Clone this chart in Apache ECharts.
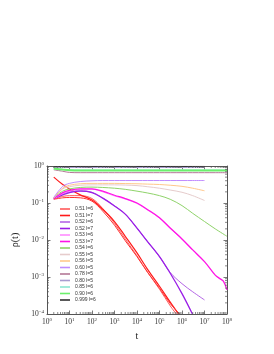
<!DOCTYPE html>
<html><head><meta charset="utf-8">
<script src="https://cdn.jsdelivr.net/npm/echarts@6/dist/echarts.min.js"></script>
<style>html,body{margin:0;padding:0;background:#fff}#c{width:274px;height:354px}</style>
</head><body><div id="c"></div>
<script>
// time grid (t values) shared by the series
const T = [2,5,10,30,100,300,1e3,3e3,1e4,3e4,1e5,3e5,1e6,3e6,1e7,3e7,1e8];

// rho(t) values (one value per entry of T, plus extra end points)
const r051_l6  = [0.132,0.151,0.158,0.158,0.132,0.0708,0.0282,0.0107,0.00372,0.00132,0.000468,0.000166];
const e051_l6  = [[5.6e5,1e-4]];
const r051_l7  = [0.501,0.316,0.240,0.166,0.120,0.0676,0.0316,0.0126,0.00447,0.00158,0.000562,0.000209];
const e051_l7  = [[7e5,1e-4]];
const r051_b   = [0.126,0.138,0.141,0.138,0.112,0.0603,0.0251,0.00955,0.00355,0.00132,0.0005,0.000191];
const e051_b   = [[8e5,1e-4]];
const r052_l7  = [0.132,0.166,0.191,0.209,0.191,0.135,0.0832,0.0501,0.0209,0.00891,0.00355,0.00126,0.000355];
const e052_l7  = [[2.9e6,1e-4]];
const r052_l6  = [0.138,0.175,0.2,0.214,0.195,0.137,0.084,0.0501,0.0209,0.00891,0.00355,0.00132,0.00066,0.000398,0.00024];
const r053_l7  = [0.132,0.191,0.219,0.240,0.240,0.209,0.162,0.132,0.100,0.066,0.040,0.021,0.0107,0.0054,0.0026,0.00112];
const e053_l7  = [[5e7,0.00089],[7e7,0.00076],[1e8,0.00045]];
const r053_l6  = [0.126,0.18,0.21,0.235,0.235,0.2,0.155,0.128,0.097,0.064,0.039,0.0205,0.0105,0.0053,0.0026];
const r054_l6  = [0.141,0.209,0.240,0.263,0.269,0.263,0.251,0.234,0.209,0.186,0.158,0.126,0.085,0.0525,0.0316,0.02,0.0126];
const r055_l5  = [0.135,0.240,0.275,0.302,0.309,0.309,0.309,0.305,0.295,0.275,0.251,0.224,0.195,0.158,0.117];
const r056_l5  = [0.138,0.251,0.302,0.331,0.339,0.339,0.339,0.335,0.331,0.324,0.316,0.302,0.282,0.251,0.214];
const r060_l5  = [0.141,0.282,0.339,0.38,0.398,0.405,0.405,0.405,0.405,0.405,0.405,0.405,0.405,0.405,0.405];
const r078_l5  = [0.79,0.72,0.67,0.66,0.66,0.66,0.66,0.66,0.66,0.66,0.66,0.66,0.66,0.66,0.66,0.66,0.66];
const r080_l5  = [0.90,0.91,0.91,0.91,0.91,0.91,0.91,0.91,0.91,0.91,0.91,0.91,0.91,0.91,0.91];
const r085_l6  = [0.83,0.80,0.79,0.78,0.78,0.78,0.78,0.78,0.78,0.78,0.78,0.78,0.78,0.78,0.78,0.78,0.78];
const r090_l6  = [0.85,0.80,0.77,0.76,0.76,0.76,0.76,0.76,0.76,0.76,0.76,0.76,0.76,0.76,0.76,0.76,0.76];
const r0999_l6 = [0.95,0.97,0.97,0.975,0.975,0.975,0.975,0.975,0.975,0.975,0.975,0.975,0.975,0.975,0.975];

const names  = ['0.51 l=6','0.51 l=7','0.52 l=6','0.52 l=7','0.53 l=6','0.53 l=7','0.54 l=6','0.55 l=5','0.56 l=5','0.60 l=5','0.78 l=5','0.80 l=5','0.85 l=6','0.90 l=6','0.999 l=6'];
const colors = ['#ff5a5a','#ff1a1a','#b466e6','#9a1ee6','#ff8cff','#ff14e6','#8fd36a','#e6cccc','#ffc88c','#c08cff','#b47896','#a89cd0','#8ce6d2','#6cf06c','#303030'];
const widths = [1,1.2,1,1.3,1,1.3,1,1,1,1,1,1,1,2,1];

function pairs(vals, extra){
  const d = vals.map((v,i)=>[T[i], v]);
  if (extra) extra.forEach(p=>d.push(p));
  return d;
}
const datasets = [
  pairs(r051_l6, e051_l6), pairs(r051_l7, e051_l7),
  pairs(r052_l6), pairs(r052_l7, e052_l7),
  pairs(r053_l6), pairs(r053_l7, e053_l7),
  pairs(r054_l6), pairs(r055_l5), pairs(r056_l5), pairs(r060_l5),
  pairs(r078_l5), pairs(r080_l5), pairs(r085_l6), pairs(r090_l6), pairs(r0999_l6)
];

// minor tick positions (2..9 x 10^k)
const minorX = [], minorY = [];
for (let k=0;k<8;k++) for (let m=2;m<10;m++) minorX.push([m*Math.pow(10,k), 1e-4]);
for (let k=-4;k<0;k++) for (let m=2;m<10;m++) minorY.push([1, m*Math.pow(10,k)]);

const serif = 'Liberation Serif';
const axisCol = '#555';
function expLabel(v){
  const e = Math.round(Math.log10(v));
  return '{b|10}{e|' + (e<0 ? '\u2212'+(-e) : e) + '}';
}
const rich = {
  b:{fontSize:7.5, fontFamily:serif, color:'#333', lineHeight:10},
  e:{fontSize:5, fontFamily:serif, color:'#333', lineHeight:5, verticalAlign:'top'}
};

const series = datasets.map((d,i)=>({
  name: names[i], type:'line', data:d, showSymbol:false, smooth:0.35,
  lineStyle:{color:colors[i], width:widths[i]}, itemStyle:{color:colors[i]},
  z: 3, clip:true
}));
// extra red run
series.push({name:'0.51 l=7 b', type:'line', data:pairs(r051_b, e051_b), showSymbol:false, smooth:0.35,
  lineStyle:{color:'#ff3030', width:1}, itemStyle:{color:'#ff3030'}, z:3, clip:true});

function tickRender(isX){
  return function(params, api){
    const len = 2;
    if (isX){
      const p = api.coord([api.value(0), 1e-4]);
      const q = api.coord([api.value(0), 1]);
      return {type:'group', children:[
        {type:'line', shape:{x1:p[0],y1:p[1],x2:p[0],y2:p[1]-len}, style:{stroke:axisCol,lineWidth:0.7}},
        {type:'line', shape:{x1:q[0],y1:q[1],x2:q[0],y2:q[1]+len}, style:{stroke:axisCol,lineWidth:0.7}}
      ]};
    } else {
      const p = api.coord([1, api.value(1)]);
      const q = api.coord([1e8, api.value(1)]);
      return {type:'group', children:[
        {type:'line', shape:{x1:p[0],y1:p[1],x2:p[0]+len,y2:p[1]}, style:{stroke:axisCol,lineWidth:0.7}},
        {type:'line', shape:{x1:q[0],y1:q[1],x2:q[0]-len,y2:q[1]}, style:{stroke:axisCol,lineWidth:0.7}}
      ]};
    }
  };
}
series.push({name:'mx', type:'custom', data:minorX, renderItem:tickRender(true), silent:true, z:5, clip:false});
series.push({name:'my', type:'custom', data:minorY, renderItem:tickRender(false), silent:true, z:5, clip:false});

const chart = echarts.init(document.getElementById('c'), null, {renderer:'canvas'});
chart.setOption({
  animation:false,
  backgroundColor:'#fff',
  grid:{left:47, right:47, top:166, bottom:40, containLabel:false},
  legend:{
    data: names.map((n,i)=>({name:n, icon:'rect', itemStyle:{color:colors[i]}})),
    orient:'vertical', left:55, top:201,
    itemWidth:10, itemHeight: 1.6, itemGap:0.5,
    textStyle:{fontSize:5, lineHeight:6, color:'#333', fontFamily:'Liberation Sans'},
    selectedMode:false
  },
  xAxis:[{
    type:'log', logBase:10, min:1, max:1e8, splitNumber:8, position:'bottom',
    name:'t', nameLocation:'middle', nameGap:17,
    nameTextStyle:{fontSize:10, fontFamily:serif, color:'#222'},
    axisLine:{show:true, lineStyle:{color:axisCol, width:1}},
    axisTick:{show:true, inside:true, length:3.5, lineStyle:{color:axisCol, width:0.8}},
    axisLabel:{formatter:expLabel, rich:rich, margin:3},
    splitLine:{show:false}
  },{
    type:'log', logBase:10, min:1, max:1e8, splitNumber:8, position:'top',
    axisLine:{show:true, lineStyle:{color:axisCol, width:1}},
    axisTick:{show:true, inside:true, length:3.5, lineStyle:{color:axisCol, width:0.8}},
    axisLabel:{show:false}, splitLine:{show:false}
  }],
  yAxis:[{
    type:'log', logBase:10, min:1e-4, max:1, splitNumber:4, position:'left',
    name:'\u03c1(t)', nameLocation:'middle', nameGap:17, nameRotate:90,
    nameTextStyle:{fontSize:10, fontFamily:serif, color:'#222'},
    axisLine:{show:true, lineStyle:{color:axisCol, width:1}},
    axisTick:{show:true, inside:true, length:3.5, lineStyle:{color:axisCol, width:0.8}},
    axisLabel:{formatter:expLabel, rich:rich, margin:3},
    splitLine:{show:false}
  },{
    type:'log', logBase:10, min:1e-4, max:1, splitNumber:4, position:'right',
    axisLine:{show:true, lineStyle:{color:axisCol, width:1}},
    axisTick:{show:true, inside:true, length:3.5, lineStyle:{color:axisCol, width:0.8}},
    axisLabel:{show:false}, splitLine:{show:false}
  }],
  series: series
});
</script></body></html>
